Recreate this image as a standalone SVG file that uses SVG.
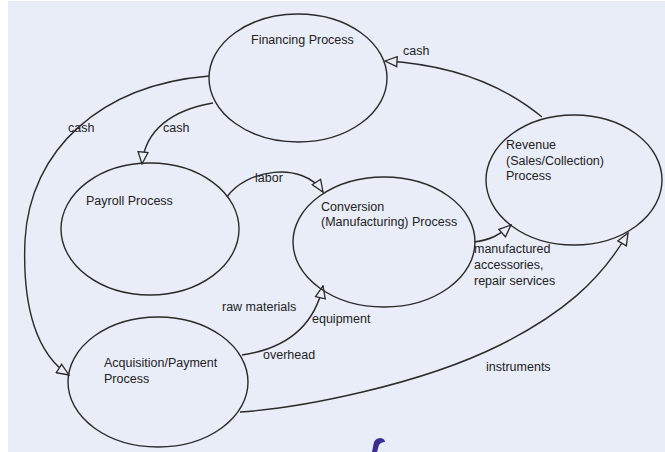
<svg xmlns="http://www.w3.org/2000/svg" width="665" height="452" viewBox="0 0 665 452">
<defs>
<style>
.bg{fill:#e9edf8}
.node{fill:none;stroke:#2a2a2a;stroke-width:1.4}
.edge{fill:none;stroke:#2a2a2a;stroke-width:1.4;marker-end:url(#tri)}
text{font-family:"Liberation Sans",Arial,sans-serif;font-size:12.5px;fill:#222}
</style>
<marker id="tri" markerUnits="userSpaceOnUse" markerWidth="14" markerHeight="12" refX="13" refY="6" orient="auto" viewBox="0 0 14 12">
<path d="M1,1 L13,6 L1,11 z" fill="#e9edf8" stroke="#2a2a2a" stroke-width="1.3"/>
</marker>
</defs>
<rect x="0" y="0" width="665" height="452" fill="#ffffff"/>
<rect class="bg" x="8" y="1" width="657" height="451"/>
<g id="connectors">
<path class="edge" d="M542,117 Q480,66 385,61"/>
<path class="edge" d="M213,103 C172,110 145,130 142,164"/>
<path class="edge" d="M209,76 C100,85 30,150 25,240 C22,310 38,355 69,375"/>
<path class="edge" d="M227,197 C245,170 302,160 323,192"/>
<path class="edge" d="M242,355 C290,348 315,322 323,286"/>
<path class="edge" d="M474,242 C490,240 500,235 511,225"/>
<path class="edge" d="M240,412 C300,408 420,385 500,345 C560,315 600,282 628,233"/>
</g>
<g id="financing">
<ellipse class="node" cx="298" cy="78" rx="89" ry="64"/>
<text x="251" y="44">Financing Process</text>
</g>
<g id="payroll">
<ellipse class="node" cx="150" cy="229" rx="89" ry="66"/>
<text x="86" y="205">Payroll Process</text>
</g>
<g id="conversion">
<ellipse class="node" cx="384" cy="242" rx="91" ry="65"/>
<text x="321" y="211">Conversion</text>
<text x="321" y="226">(Manufacturing) Process</text>
</g>
<g id="revenue">
<ellipse class="node" cx="574" cy="180" rx="88" ry="65"/>
<text x="506" y="149">Revenue</text>
<text x="506" y="165">(Sales/Collection)</text>
<text x="506" y="180">Process</text>
</g>
<g id="acquisition">
<ellipse class="node" cx="158" cy="382" rx="90" ry="65"/>
<text x="104" y="367">Acquisition/Payment</text>
<text x="104" y="383">Process</text>
</g>
<g id="labels">
<text x="403" y="55">cash</text>
<text x="68" y="132">cash</text>
<text x="163" y="132">cash</text>
<text x="255" y="182">labor</text>
<text x="222" y="311">raw materials</text>
<text x="312" y="323">equipment</text>
<text x="263" y="359">overhead</text>
<text x="474" y="253">manufactured</text>
<text x="474" y="269">accessories,</text>
<text x="474" y="285">repair services</text>
<text x="486" y="371">instruments</text>
</g>
<path d="M372,452 L374,442 Q376,438 381,438 Q385,439 385,442 Q381,442 379,445 L377,452 z" fill="#3b2d8f"/>
</svg>
